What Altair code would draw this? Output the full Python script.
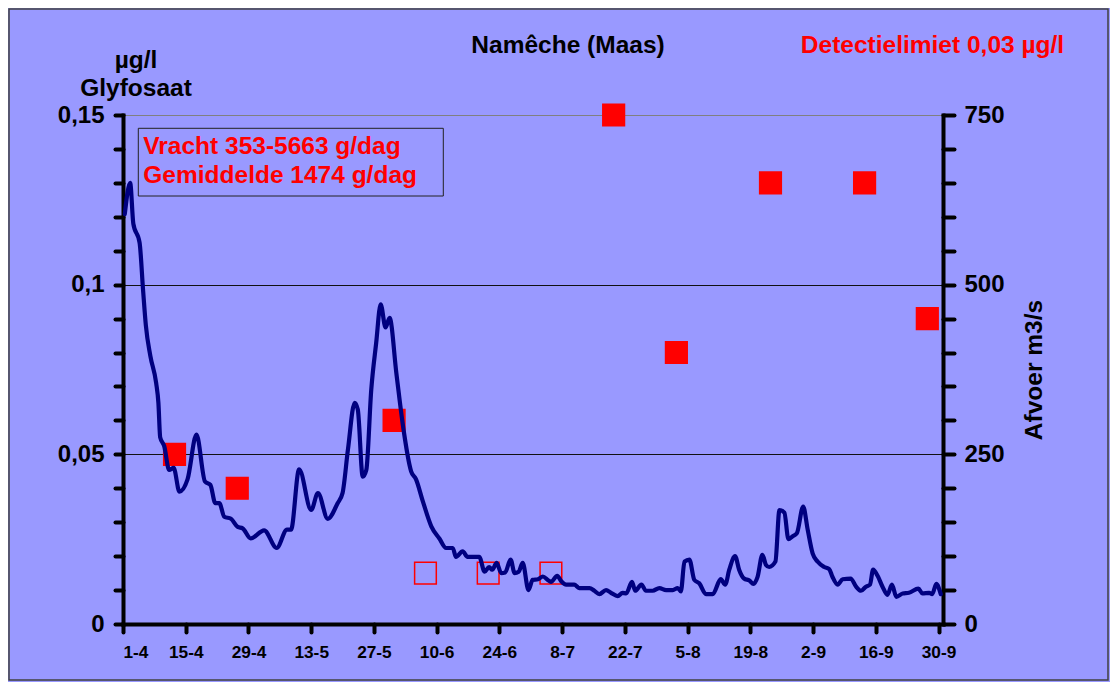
import altair as alt
import pandas as pd

FONT = "Liberation Sans"

# ---- data ----------------------------------------------------------------
# glyphosate samples: day index counted from 1 April
sample_day = [11, 25, 60, 67, 81, 95, 109, 123, 144, 165, 179]
sample_conc = [0.05, 0.04, 0.06, 0.015, 0.015, 0.015, 0.15, 0.08, 0.13, 0.13, 0.09]
sample_status = ["boven", "boven", "boven", "onder", "onder", "onder",
                 "boven", "boven", "boven", "boven", "boven"]

# discharge (m3/s), position in days from 1 April
flow_day = [0.4, 1.6, 2.3, 3.7, 4.5, 5.1, 6.1, 7.4, 7.9, 8.3, 9.2, 10.3, 11.3, 12.6,
            14.4, 16.4, 18.3, 19.5, 20.6, 21.5, 22.6, 24.1, 25.6, 26.7, 28.5, 31.5,
            34.3, 36.6, 37.5, 39.3, 42.0, 43.5, 45.7, 47.9, 49.0, 50.2, 51.7, 52.4,
            53.5, 54.3, 55.4, 56.5, 57.5, 58.6, 59.5, 61.0, 62.4, 64.3, 65.4, 66.9,
            68.8, 70.6, 72.1, 73.6, 74.3, 75.8, 76.9, 79.5, 80.7, 81.7, 82.4, 83.4,
            84.4, 85.3, 86.5, 87.4, 88.3, 89.2, 90.5, 91.4, 92.6, 93.7, 94.8, 95.5,
            96.9, 97.8, 98.9, 100.7, 101.8, 104.1, 105.2, 106.3, 107.8, 108.9, 110.4,
            111.5, 112.3, 113.6, 114.3, 115.7, 116.7, 118.2, 119.7, 121.2, 122.7,
            123.8, 124.5, 125.3, 126.4, 127.5, 128.6, 130.1, 131.6, 133.4, 134.4,
            135.3, 136.6, 137.5, 138.6, 139.8, 140.7, 141.6, 142.7, 143.5, 144.2,
            145.6, 146.5, 147.6, 148.5, 149.4, 150.4, 151.8, 152.8, 153.9, 155.0,
            156.5, 157.6, 158.3, 159.5, 160.6, 162.4, 163.6, 164.7, 165.8, 166.7,
            167.4, 168.4, 169.5, 170.6, 171.6, 172.6, 174.0, 175.4, 177.5, 178.4,
            179.9, 180.6, 181.5, 182.5]
flow_m3s = [604, 650, 590, 562, 490, 440, 395, 355, 326, 275, 262, 227, 230, 195,
            213, 279, 210, 205, 178, 178, 158, 155, 143, 141, 126, 138,
            112, 139, 139, 228, 168, 193, 155, 178, 193, 257, 326, 316,
            217, 227, 345, 414, 471, 437, 451, 370, 296, 225, 213, 181,
            144, 126, 112, 112, 99, 107, 99, 99, 77, 84, 80, 90,
            75, 76, 95, 75, 77, 90, 50, 65, 66, 70, 65, 62,
            71, 63, 58, 58, 53, 53, 49, 44, 50, 46, 41,
            46, 45, 62, 49, 58, 49, 49, 53, 50, 50,
            53, 48, 92, 95, 65, 60, 44, 44, 66, 58,
            80, 100, 80, 67, 64, 59, 69, 102, 87, 84,
            92, 168, 164, 125, 129, 134, 173, 139, 104, 92,
            84, 81, 70, 58, 66, 67, 55, 49, 55, 58,
            80, 71, 55, 43, 58, 40, 45, 46, 52, 45,
            46, 44, 59, 44]

x_tick_days = [0, 14, 28, 42, 56, 70, 84, 98, 112, 126, 140, 154, 168, 182]
x_tick_labels = ["1-4", "15-4", "29-4", "13-5", "27-5", "10-6", "24-6", "8-7",
                 "22-7", "5-8", "19-8", "2-9", "16-9", "30-9"]
conc_ticks = [round(i * 0.01, 2) for i in range(16)]
flow_ticks = list(range(0, 751, 50))

title_text = "Namêche (Maas)"
detect_text = "Detectielimiet 0,03 µg/l"
box_lines = ["Vracht 353-5663 g/dag", "Gemiddelde 1474 g/dag"]

samples = pd.DataFrame({"day": sample_day, "conc": sample_conc, "status": sample_status})
flow = pd.DataFrame({"dag": flow_day, "afvoer": flow_m3s})

# ---- axes ------------------------------------------------------------------
label_js = "[" + ",".join("'%s'" % s for s in x_tick_labels) + "]"
x_axis = alt.Axis(
    values=x_tick_days, labelExpr=label_js + "[round(datum.value/14)]",
    title=None, grid=False, domainColor="black", domainWidth=4, domainCap="square",
    tickColor="black", tickWidth=4, tickSize=8, tickCap="round",
    labelFont=FONT, labelFontSize=17.3, labelFontWeight="bold", labelColor="black",
    labelPadding=11,
)
x_scale = alt.Scale(domain=[0, 183], nice=False, zero=False)

left_axis = alt.Axis(
    values=conc_ticks,
    labelExpr="round(datum.value*100) % 5 == 0 ? replace(format(datum.value, '.2~f'), '.', ',') : ''",
    title=["µg/l", "Glyfosaat"], titleAngle=0, titleX=12.5, titleY=-48,
    titleAlign="center", titleBaseline="alphabetic", titleFont=FONT,
    titleFontSize=24.5, titleFontWeight="bold", titleColor="black", titleLineHeight=28.5,
    grid=True, gridColor="#111111", gridWidth=1,
    gridOpacity={"condition": {"test": "datum.value == 0.05 || datum.value == 0.1", "value": 1}, "value": 0},
    domainColor="black", domainWidth=4, domainCap="square",
    tickColor="black", tickWidth=4, tickSize=8, tickCap="round",
    labelFont=FONT, labelFontSize=24, labelFontWeight="bold", labelColor="black",
    labelPadding=11,
)

right_axis = alt.Axis(
    orient="right", values=flow_ticks,
    labelExpr="datum.value % 250 == 0 ? format(datum.value, 'd') : ''",
    title="Afvoer m3/s", titleAngle=270, titleX=98, titleY=254.5,
    titleAlign="center", titleBaseline="alphabetic", titleFont=FONT,
    titleFontSize=24.5, titleFontWeight="bold", titleColor="black",
    grid=False, domainColor="black", domainWidth=4, domainCap="square",
    tickColor="black", tickWidth=4, tickSize=11, tickCap="round",
    labelFont=FONT, labelFontSize=24, labelFontWeight="bold", labelColor="black",
    labelPadding=10,
)

# ---- layers ----------------------------------------------------------------
squares = alt.Chart(samples).transform_calculate(
    dag="datum.day + 0.5"
).mark_square(size=470, stroke="#FF0000", strokeWidth=1.5, opacity=1).encode(
    x=alt.X("dag:Q", scale=x_scale, axis=x_axis),
    y=alt.Y("conc:Q", scale=alt.Scale(domain=[0, 0.15], nice=False), axis=left_axis),
    fill=alt.Fill("status:N", scale=alt.Scale(domain=["boven", "onder"],
                                              range=["#FF0000", "transparent"]), legend=None),
)

line = alt.Chart(flow).mark_line(
    color="#000080", strokeWidth=4.2, interpolate="monotone",
    strokeCap="round", strokeJoin="round",
).encode(
    x=alt.X("dag:Q", scale=x_scale, axis=x_axis),
    y=alt.Y("afvoer:Q", scale=alt.Scale(domain=[0, 750], nice=False), axis=right_axis),
)

one = pd.DataFrame({"k": [0]})

box = alt.Chart(one).mark_rect(fill="transparent", stroke="#222222", strokeWidth=1).encode(
    x=alt.value(15.3), x2=alt.value(320.3), y=alt.value(13.3), y2=alt.value(81)
)


def txt(s, x, y, color, align="left", size=24.5):
    return alt.Chart(pd.DataFrame({"t": [s]})).mark_text(
        font=FONT, fontSize=size, fontWeight="bold", color=color,
        align=align, baseline="alphabetic",
    ).encode(text="t:N", x=alt.value(x), y=alt.value(y))


box_t1 = txt(box_lines[0], 20.3, 38.5, "#FF0000")
box_t2 = txt(box_lines[1], 20.3, 67.5, "#FF0000")
title_t = txt(title_text, 445, -62, "black", align="center")
detect_t = txt(detect_text, 809.5, -62, "#FF0000", align="center")

border = alt.Chart(one).mark_rect(fill="transparent", stroke="#404040", strokeWidth=1.5).encode(
    x=alt.value(-114), x2=alt.value(985), y=alt.value(-106), y2=alt.value(565)
)

chart = alt.layer(
    squares, line, box, box_t1, box_t2, title_t, detect_t, border
).resolve_scale(y="independent").properties(
    width=820, height=509,
    padding={"left": 115, "top": 107, "right": 167, "bottom": 58},
    autosize=alt.AutoSizeParams(type="none"),
).configure(background="#9999FF").configure_view(stroke="#808080", strokeWidth=1)

chart.save("out.html", embed_options={"renderer": "svg", "actions": False})
